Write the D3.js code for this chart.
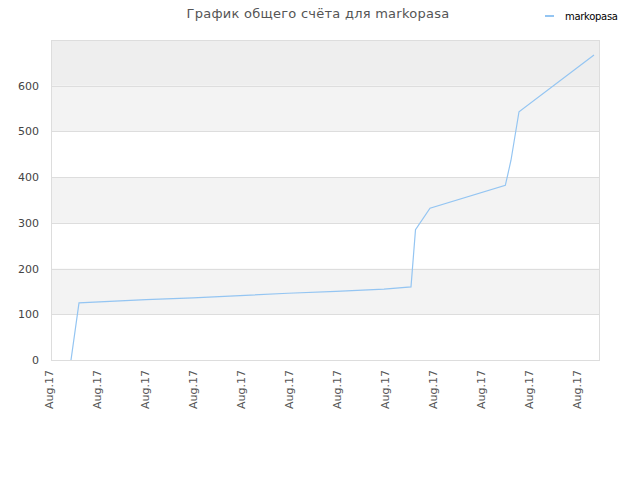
<!DOCTYPE html>
<html>
<head>
<meta charset="utf-8">
<script src="https://cdn.jsdelivr.net/npm/d3@7"></script>
<style>
  body { margin: 0; background: #fff; }
  svg { display: block; font-family: "DejaVu Sans", sans-serif; }
</style>
</head>
<body>
<div id="chart"></div>
<script>
// score history
const dates = [
  '2017-08-01T20:00', '2017-08-02T04:00', '2017-08-04T23:00', '2017-08-06T22:00',
  '2017-08-08T21:00', '2017-08-10T21:00', '2017-08-12T21:00', '2017-08-14T21:00',
  '2017-08-16T00:00', '2017-08-16T04:30', '2017-08-16T19:00', '2017-08-19T22:20',
  '2017-08-20T04:00', '2017-08-20T12:00', '2017-08-23T15:00'
];
const scores = [0, 125, 132, 136, 141, 146, 150, 155, 160, 285, 332, 382, 437, 543, 667];
const seriesName = 'markopasa';
const yTicks = [0, 100, 200, 300, 400, 500, 600];
const bands = [[100, 200], [300, 400], [500, 600], [600, 700]];

const parse = d3.timeParse('%Y-%m-%dT%H:%M');
const points = dates.map((d, i) => ({ date: parse(d), score: scores[i] }));

const width = 640;
const height = 480;
const margin = { top: 40, right: 40, bottom: 120, left: 51 };

const x = d3.scaleTime()
  .domain([parse('2017-08-01T00:00'), parse('2017-08-23T21:00')])
  .range([margin.left, width - margin.right]);

const y = d3.scaleLinear()
  .domain([0, 700])
  .range([height - margin.bottom, margin.top]);

const svg = d3.select('#chart')
  .append('svg')
  .attr('width', width)
  .attr('height', height);

// alternating background bands
svg.append('g')
  .selectAll('rect')
  .data(bands)
  .join('rect')
  .attr('x', margin.left)
  .attr('width', width - margin.right - margin.left)
  .attr('y', d => y(d[1]))
  .attr('height', d => y(d[0]) - y(d[1]))
  .attr('fill', d => d[0] === 600 ? '#eeeeee' : '#f3f3f3');

// horizontal grid
svg.append('g')
  .selectAll('line')
  .data(yTicks.slice(1))
  .join('line')
  .attr('x1', margin.left)
  .attr('x2', width - margin.right)
  .attr('y1', d => Math.round(y(d)) + 0.5)
  .attr('y2', d => Math.round(y(d)) + 0.5)
  .attr('stroke', '#dddddd');

// frame
svg.append('rect')
  .attr('x', margin.left + 0.5)
  .attr('y', margin.top + 0.5)
  .attr('width', width - margin.right - margin.left - 1)
  .attr('height', height - margin.bottom - margin.top)
  .attr('fill', 'none')
  .attr('stroke', '#dddddd');

const yAxis = g => g
  .attr('transform', `translate(${margin.left},0)`)
  .call(d3.axisLeft(y).tickValues(yTicks).tickSize(0).tickPadding(12))
  .call(g => g.select('.domain').remove())
  .call(g => g.selectAll('text')
    .attr('fill', '#444')
    .style('font', '11px "DejaVu Sans", sans-serif'));

const xAxis = g => g
  .attr('transform', `translate(0,${height - margin.bottom})`)
  .call(d3.axisBottom(x)
    .ticks(d3.timeDay.every(2))
    .tickSize(0)
    .tickFormat(d3.timeFormat('%b.%y')))
  .call(g => g.select('.domain').remove())
  .call(g => g.selectAll('text')
    .attr('fill', '#555')
    .attr('text-anchor', 'end')
    .attr('transform', 'rotate(-90)')
    .attr('x', -10)
    .attr('y', 0)
    .attr('dy', '0.1em')
    .style('font', '11px "DejaVu Sans", sans-serif'));

svg.append('g').call(yAxis);
svg.append('g').call(xAxis);

const line = d3.line()
  .x(d => x(d.date))
  .y(d => y(d.score));

svg.append('path')
  .datum(points)
  .attr('fill', 'none')
  .attr('stroke', '#94c5f2')
  .attr('stroke-width', 1.2)
  .attr('d', line);

// title
svg.append('text')
  .attr('x', 318)
  .attr('y', 18)
  .attr('text-anchor', 'middle')
  .attr('fill', '#555')
  .style('font', '13px "DejaVu Sans", sans-serif')
  .style('letter-spacing', '0.25px')
  .text('График общего счёта для ' + seriesName);

// legend
const legend = svg.append('g')
  .attr('transform', 'translate(545,16)');

legend.append('line')
  .attr('x1', 0)
  .attr('x2', 9)
  .attr('stroke', '#94c5f2')
  .attr('stroke-width', 2);

legend.append('text')
  .attr('x', 20)
  .attr('dy', '0.35em')
  .attr('fill', '#000')
  .style('font', '10px "DejaVu Sans", sans-serif')
  .style('letter-spacing', '-0.3px')
  .text(seriesName);
</script>
</body>
</html>
